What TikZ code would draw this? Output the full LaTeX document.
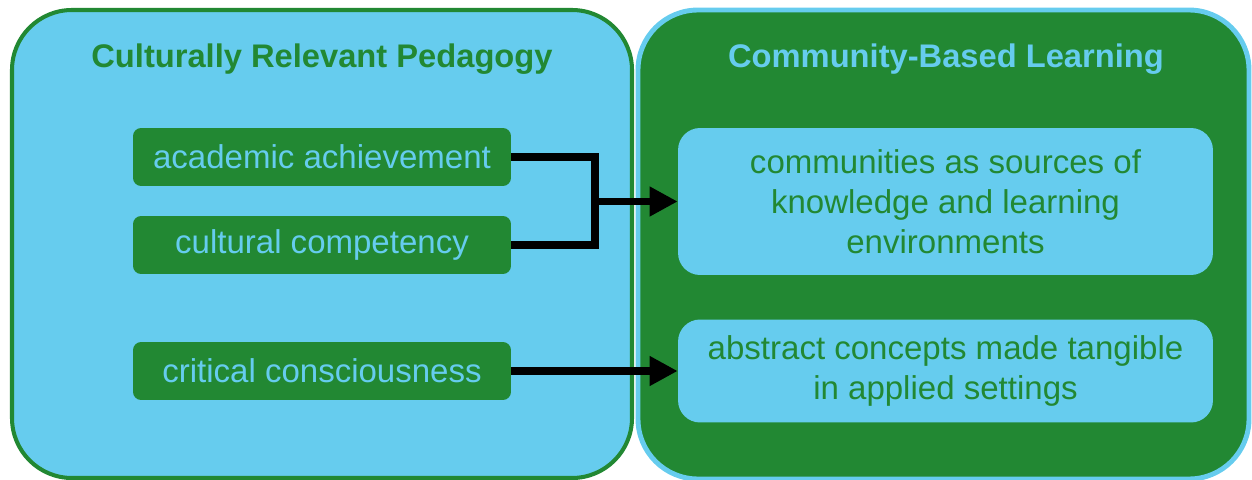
\documentclass[tikz,border=0pt]{standalone}
\usepackage{fontspec}
\setmainfont{Liberation Sans}
\usetikzlibrary{positioning,arrows.meta}
\definecolor{tolcyan}{HTML}{66CCEE}
\definecolor{tolgreen}{HTML}{228833}
\tikzset{
  panel/.style={rounded corners=1.2cm},
  heading/.style={font=\bfseries\fontsize{18.6}{22}\selectfont},
  leftitem/.style={fill=tolgreen,text=tolcyan,rounded corners=0.16cm,minimum width=7.56cm,minimum height=1.16cm,inner sep=0pt,font=\fontsize{18.8}{22}\selectfont},
  rightitem/.style={fill=tolcyan,text=tolgreen,rounded corners=0.44cm,minimum width=10.7cm,inner sep=0pt,align=center,font=\fontsize{18.8}{22.8}\selectfont},
  link/.style={line width=4.5pt,-{Triangle[length=0.56cm,width=0.56cm]}}
}

\begin{document}
\begin{tikzpicture}[x=0.02cm,y=-0.02cm]
\useasboundingbox (0,0) rectangle (1252,480);
% the two panels
\draw [panel,draw=tolgreen,fill=tolcyan,line width=2.3pt] (12,10) rectangle (632,478);
\draw [panel,draw=tolcyan,fill=tolgreen,line width=2.8pt] (638,10) rectangle (1249,479);
\node [heading,text=tolgreen,anchor=base] (crp) at (322,68) {Culturally Relevant Pedagogy};
\node [heading,text=tolcyan,anchor=base] (cbl) at (946,68) {Community-Based Learning};
% left column
\node [leftitem] (acad) at (322,157) {academic achievement};
\node [leftitem] (cult) at (322,245) {cultural competency};
\node [leftitem] (crit) at (322,371) {critical consciousness};
% right column
\node [rightitem,minimum height=2.94cm] (know) at (945.5,201.5) {communities as sources of\\knowledge and learning\\environments};
\node [rightitem,minimum height=2.06cm] (tang) at (945.5,371) {abstract concepts made tangible\\in applied settings};
% connectors
\coordinate (jn) at (595,201.5);
\draw [line width=4.5pt] (acad.east) -| (jn) |- (cult.east);
\draw [link] (jn) -- (know.west);
\draw [link] (crit.east) -- (tang.west);
\end{tikzpicture}
\end{document}
